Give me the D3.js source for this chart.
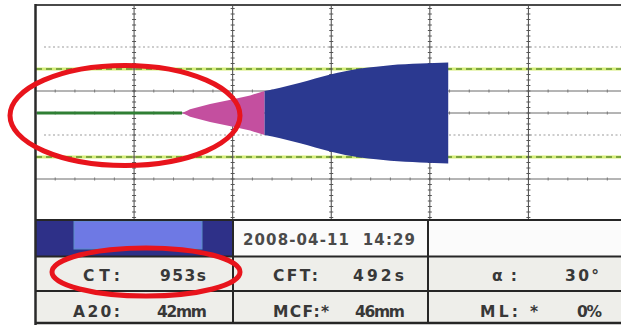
<!DOCTYPE html>
<html>
<head>
<meta charset="utf-8">
<script src="https://cdn.jsdelivr.net/npm/d3@7"></script>
<style>
  html, body { margin: 0; padding: 0; background: #ffffff; }
  svg { display: block; }
</style>
</head>
<body>
<svg id="chart" width="621" height="328"></svg>
<script>
// Clot firmness trace: run time (s) against amplitude (mm)
const traceTime = [0, 921, 953, 972, 1099, 1245, 1353, 1445, 1544, 1671, 1862, 2052, 2153, 2243, 2433, 2611];
const traceAmp  = [0, 0,   2,   3.4, 8.2,  12.5, 16,   20,   23,   27.5, 35,   40.5, 42,   43.5, 45,   46];

// Result panel
const runDate = "2008-04-11  14:29";
const paramNames  = ["CT:", "CFT:", "α:", "A20:", "MCF:*", "ML: *"];
const paramValues = [953, 492, 30, 42, 46, 0];
const paramUnits  = ["s", "s", "°", "mm", "mm", "%"];

// Graticule levels (mm) and screen divisions
const solidLevels  = [20, 0, -60];
const dottedLevels = [60, -20];
const rangeLevels  = [40, -40];
const divisions    = [1, 2, 3, 4, 5];

const CT  = paramValues[0];
const CFT = paramValues[1];

const svg = d3.select("#chart");

const xTime = d3.scaleLinear().domain([0, 3600]).range([37, 604]);
const xDiv  = d3.scaleLinear().domain([0, 6]).range([35.5, 627]);
const yAmp  = d3.scaleLinear().domain([-100, 100]).range([223, 3]);

const plotTop = 5, plotBottom = 220, plotLeft = 36, plotRight = 621;

// ---- graticule ----
const grid = svg.append("g");

// dotted levels
grid.selectAll("line.dot").data(dottedLevels).join("line")
  .attr("x1", plotLeft + 8).attr("x2", plotRight)
  .attr("y1", d => yAmp(d)).attr("y2", d => yAmp(d))
  .attr("stroke", "#bdbdbd").attr("stroke-width", 1.6)
  .attr("stroke-dasharray", "2 2.5");

// solid levels with small ticks
grid.selectAll("line.solid").data(solidLevels).join("line")
  .attr("x1", plotLeft).attr("x2", plotRight)
  .attr("y1", d => yAmp(d)).attr("y2", d => yAmp(d))
  .attr("stroke", "#6a6a6a").attr("stroke-width", 1);

const tickXs = d3.range(0, 6.01, 0.2);
solidLevels.forEach(lv => {
  grid.append("g").selectAll("line").data(tickXs).join("line")
    .attr("x1", d => xDiv(d)).attr("x2", d => xDiv(d))
    .attr("y1", yAmp(lv) - 1.5).attr("y2", yAmp(lv) + 1.5)
    .attr("stroke", "#777").attr("stroke-width", 1);
});

// reference range levels (green dashed on yellow-green)
grid.selectAll("line.rangeBase").data(rangeLevels).join("line")
  .attr("x1", plotLeft).attr("x2", plotRight)
  .attr("y1", d => yAmp(d)).attr("y2", d => yAmp(d))
  .attr("stroke", "#d6ee78").attr("stroke-width", 3.2);
grid.selectAll("line.rangeDash").data(rangeLevels).join("line")
  .attr("x1", plotLeft).attr("x2", plotRight)
  .attr("y1", d => yAmp(d)).attr("y2", d => yAmp(d))
  .attr("stroke", "#5f8f2c").attr("stroke-width", 1.6)
  .attr("stroke-dasharray", "6 4");

// vertical divisions with minor ticks
grid.selectAll("line.vdiv").data(divisions).join("line")
  .attr("x1", d => xDiv(d)).attr("x2", d => xDiv(d))
  .attr("y1", plotTop).attr("y2", plotBottom)
  .attr("stroke", "#4a4a4a").attr("stroke-width", 1);
const vTicks = d3.range(-95, 100, 5);
divisions.forEach(dv => {
  grid.append("g").selectAll("line").data(vTicks).join("line")
    .attr("x1", xDiv(dv) - 2).attr("x2", xDiv(dv) + 2)
    .attr("y1", d => yAmp(d)).attr("y2", d => yAmp(d))
    .attr("stroke", "#555").attr("stroke-width", 1);
});

// ---- trace ----
const pts = traceTime.map((t, i) => ({ t, a: traceAmp[i] }));
const onsetT = traceTime[traceAmp.findIndex(a => a > 0) - 1];

const wedge = d3.area()
  .x(d => xTime(d.t))
  .y0(d => yAmp(-d.a))
  .y1(d => yAmp(d.a));

const body = d3.area()
  .x(d => xTime(d.t))
  .y0(d => yAmp(-d.a))
  .y1(d => yAmp(d.a))
  .curve(d3.curveMonotoneX);

const cftPts  = pts.filter(p => p.t >= onsetT && p.t <= CT + CFT);
const firmPts = pts.filter(p => p.t >= CT + CFT);

// pre-coagulation flat line
svg.append("line")
  .attr("x1", xTime(0)).attr("x2", xTime(onsetT))
  .attr("y1", yAmp(0)).attr("y2", yAmp(0))
  .attr("stroke", "#2f7f34").attr("stroke-width", 3);

svg.append("path").datum(cftPts)
  .attr("d", wedge).attr("fill", "#c44f9f");
svg.append("path").datum(firmPts)
  .attr("d", body).attr("fill", "#2b3990");

// ---- frame ----
svg.append("line").attr("x1", 35).attr("x2", 621).attr("y1", 5).attr("y2", 5)
  .attr("stroke", "#4a4a4a").attr("stroke-width", 2);

// ---- result panel ----
const rowY = [220, 256.5, 291, 323];
const colX = [35.5, 233, 428, 621];
const panel = svg.append("g");

panel.append("rect").attr("x", colX[1]).attr("y", rowY[0])
  .attr("width", colX[3] - colX[1]).attr("height", rowY[1] - rowY[0]).attr("fill", "#fbfbfb");
panel.append("rect").attr("x", colX[0]).attr("y", rowY[1])
  .attr("width", colX[3] - colX[0]).attr("height", rowY[3] - rowY[1]).attr("fill", "#eeeeea");

// progress bar cell
panel.append("rect").attr("x", colX[0]).attr("y", rowY[0])
  .attr("width", colX[1] - colX[0]).attr("height", rowY[1] - rowY[0]).attr("fill", "#2e3088");
panel.append("rect").attr("x", 74).attr("y", rowY[0] + 1)
  .attr("width", 128).attr("height", 28)
  .attr("fill", "#6e79e4").attr("stroke", "#5b8fc6").attr("stroke-width", 1);

// panel rules
rowY.forEach((y, i) => {
  panel.append("line").attr("x1", colX[0]).attr("x2", colX[3])
    .attr("y1", y).attr("y2", y)
    .attr("stroke", "#262626").attr("stroke-width", i === 3 ? 2.5 : 2);
});
[colX[1], colX[2]].forEach(x => {
  panel.append("line").attr("x1", x).attr("x2", x)
    .attr("y1", rowY[0]).attr("y2", rowY[3])
    .attr("stroke", "#262626").attr("stroke-width", 2);
});
svg.append("line").attr("x1", 35.5).attr("x2", 35.5).attr("y1", 4).attr("y2", 325)
  .attr("stroke", "#2a2a2a").attr("stroke-width", 2.5);

const textStyle = sel => sel
  .attr("font-family", "'DejaVu Sans', sans-serif")
  .attr("font-weight", "bold")
  .attr("font-size", 15.5)
  .attr("fill", "#383838")
  .attr("lengthAdjust", "spacing")
  .style("white-space", "pre");

panel.append("text").text(runDate)
  .attr("x", 243).attr("y", 245).attr("textLength", 172).call(textStyle)
  .attr("font-size", 15).attr("fill", "#4a4a4a");

// label/value placement per cell
const nameX   = [83, 273, 492, 73, 273, 480];
const nameW   = [37, 45, 25, 47, 56, 58];
const valueX  = [160, 353, 565, 157, 355, 577];
const valueW  = [46, 51, 34, 50, 50, 25];
const baseY   = [281, 281, 281, 316.5, 316.5, 316.5];

paramNames.forEach((n, i) => {
  panel.append("text").text(n)
    .attr("x", nameX[i]).attr("y", baseY[i]).attr("textLength", nameW[i]).call(textStyle);
  panel.append("text").text(paramValues[i] + paramUnits[i])
    .attr("x", valueX[i]).attr("y", baseY[i]).attr("textLength", valueW[i]).call(textStyle);
});

// ---- highlight rings ----
const rings = svg.append("g").attr("fill", "none").attr("stroke", "#e8141c").attr("stroke-width", 5);
rings.append("ellipse").attr("cx", 125).attr("cy", 115.5).attr("rx", 115).attr("ry", 50);
rings.append("ellipse").attr("cx", 146).attr("cy", 272).attr("rx", 94).attr("ry", 24);
</script>
</body>
</html>
